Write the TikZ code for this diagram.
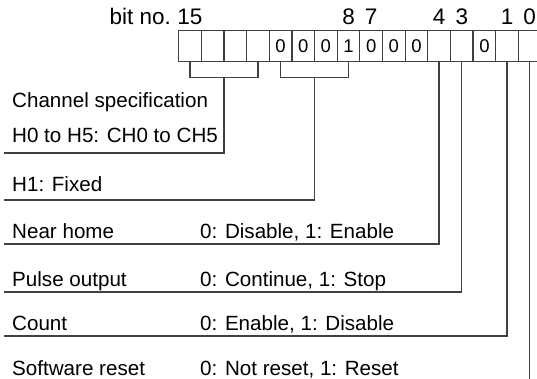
\documentclass[tikz,border=0pt]{standalone}
\usepackage{fontspec}
\setmainfont{Liberation Sans}
\usetikzlibrary{calc}
\begin{document}
\begin{tikzpicture}[x=1pt,y=-1pt,
  ln/.style={draw=black!75,line width=1.25pt},
  cell/.style={draw=black!75,line width=1.25pt,minimum width=22.65pt,minimum height=31pt,inner sep=0pt,anchor=north west,font=\fontsize{18.5}{18.5}\selectfont},
  lbl/.style={anchor=base west,inner sep=0pt,font=\fontsize{20.6}{20.6}\selectfont,text=black},
  num/.style={anchor=base,inner sep=0pt,font=\fontsize{22.5}{22.5}\selectfont,text=black}]
\useasboundingbox (0,0) rectangle (537,379);
% register cells, bit 15 on the left
\foreach \b/\v [count=\i from 0] in {15/,14/,13/,12/,11/0,10/0,9/0,8/1,7/0,6/0,5/0,4/,3/,2/0,1/,0/}{
  \node[cell] (c\b) at ({178+\i*22.65},30) {\v};
}
% bit numbers
\node[anchor=base east,inner sep=0pt,font=\fontsize{22.5}{22.5}\selectfont,text=black] (bitno) at (171,25) {bit no.};
\foreach \b in {15,8,7,4,3,1,0}{
  \node[num] (n\b) at (c\b.north |- 0,25) {\b};
}
% brackets
\coordinate (k1) at ($(c15.south)!0.5!(c12.south)+(0,15)$);
\coordinate (k2) at ($(c11.south)!0.5!(c8.south)+(0,15)$);
\draw[ln] (c15.south) -- ++(0,15) -| (c12.south);
\draw[ln] (c11.south) -- ++(0,15) -| (c8.south);
% underline ends
\coordinate (u1) at (4,153);
\coordinate (u2) at (4,200);
\coordinate (u3) at (4,244);
\coordinate (u4) at (4,292);
\coordinate (u5) at (4,336);
\coordinate (e0) at (c0.south |- 0,385);
\draw[ln] (k1) |- (u1);
\draw[ln] (k2) |- (u2);
\draw[ln] (c4.south) |- (u3);
\draw[ln] (c3.south) |- (u4);
\draw[ln] (c1.south) |- (u5);
\draw[ln] (c0.south) -- (e0);
% texts
\node[lbl] (t1) at (12,108) {Channel specification};
\node[lbl] (t2) at (12,143) {H0 to H5: CH0 to CH5};
\node[lbl] (t3) at (12,192) {H1: Fixed};
\node[lbl] (t4) at (12,238) {Near home};
\node[lbl] (t4b) at (200,238) {0: Disable, 1: Enable};
\node[lbl] (t5) at (12,286) {Pulse output};
\node[lbl] (t5b) at (200,286) {0: Continue, 1: Stop};
\node[lbl] (t6) at (12,330) {Count};
\node[lbl] (t6b) at (200,330) {0: Enable, 1: Disable};
\node[lbl] (t7) at (12,375) {Software reset};
\node[lbl] (t7b) at (200,375) {0: Not reset, 1: Reset};
\end{tikzpicture}
\end{document}
